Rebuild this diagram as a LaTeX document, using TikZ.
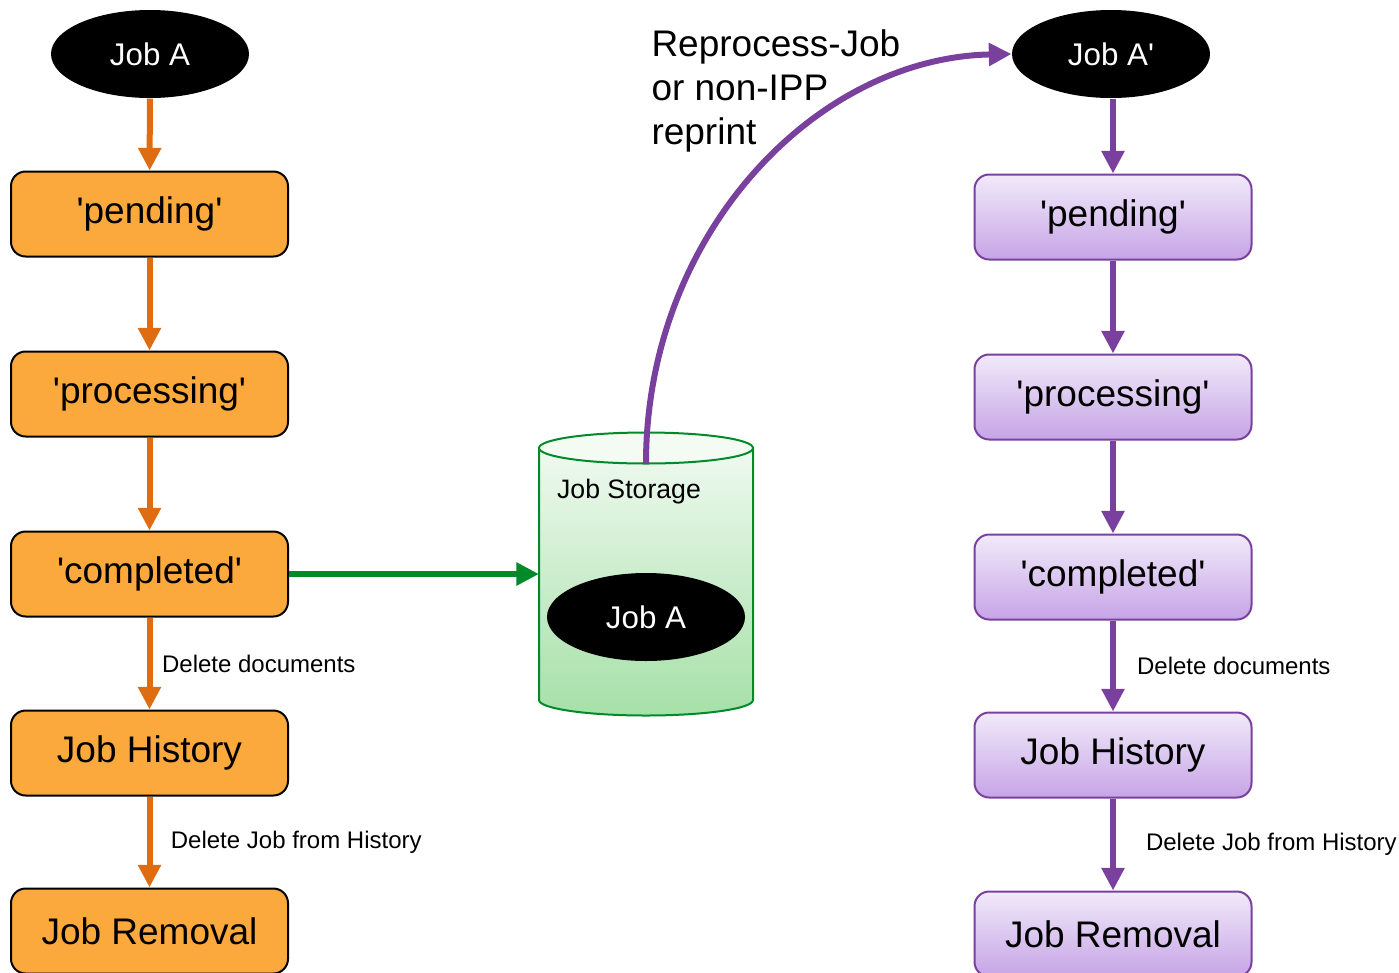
\documentclass[tikz,border=0pt]{standalone}
\usepackage{fontspec}
\setmainfont{Liberation Sans}
\usetikzlibrary{arrows.meta,shapes.geometric}

\definecolor{boxorange}{RGB}{251,168,60}
\definecolor{arroworange}{RGB}{224,108,18}
\definecolor{jobpurple}{RGB}{122,64,158}
\definecolor{lavtop}{RGB}{241,234,250}
\definecolor{lavbottom}{RGB}{198,164,230}
\definecolor{storegreen}{RGB}{0,138,42}
\definecolor{mintop}{RGB}{243,251,243}
\definecolor{minbottom}{RGB}{166,224,168}

\tikzset{every picture/.style={line width=0.75pt}}
\tikzset{
  jobnode/.style={ellipse, fill=black, text=white, inner sep=0pt, minimum width=148.5pt, minimum height=66pt, font=\fontsize{23.5}{28}\selectfont},
  statebox/.style={rectangle, rounded corners=11pt, line width=1.5pt, inner sep=0pt, minimum width=207.75pt, minimum height=63.75pt, font=\fontsize{27.75}{33}\selectfont},
  obox/.style={statebox, draw=black, fill=boxorange},
  pbox/.style={statebox, draw=jobpurple, top color=lavtop, bottom color=lavbottom},
  oarrow/.style={draw=arroworange, line width=4.5pt, -{Triangle[width=16.5pt,length=17pt]}},
  parrow/.style={oarrow, draw=jobpurple},
  garrow/.style={oarrow, draw=storegreen},
  elabel/.style={inner sep=0pt, anchor=west, font=\fontsize{18}{21}\selectfont}
}

\newcommand{\q}{\textquotesingle}

\begin{document}
\begin{tikzpicture}[x=0.75pt,y=0.75pt,yscale=-1,xscale=1]
\useasboundingbox (0,0) rectangle (1399,972);

%Shape: Can [id:store]
\shade [top color=mintop, bottom color=minbottom] (539,448) -- (539,700) arc [start angle=180, end angle=0, x radius=107, y radius=15.5] -- (753,448) arc [start angle=0, end angle=-180, x radius=107, y radius=15.5] -- cycle;
\draw [draw=storegreen, line width=1.5pt] (539,448) -- (539,700) arc [start angle=180, end angle=0, x radius=107, y radius=15.5] -- (753,448);
\draw [draw=storegreen, line width=1.5pt, fill=mintop] (646,448) ellipse [x radius=107, y radius=15.5];
\coordinate (storemouth) at (646,463.5);
\coordinate (storewest) at (539,574);
% Text Node
\node [font=\fontsize{20}{24}\selectfont] (storelabel) at (629,492) {Job Storage};
% Text Node
\node [jobnode] (jobS) at (646,617) {Job A};

% left column
\node [jobnode] (jobA) at (150,54) {Job A};
\node [obox] (opend) at (149.5,214) {\q pending\q};
\node [obox] (oproc) at (149.5,394) {\q processing\q};
\node [obox] (ocomp) at (149.5,574) {\q completed\q};
\node [obox] (ohist) at (149.5,753) {Job History};
\node [obox] (orem) at (149.5,931) {Job Removal};

% right column
\node [jobnode] (jobAp) at (1111,54) {Job A\q};
\node [pbox] (ppend) at (1113,217) {\q pending\q};
\node [pbox] (pproc) at (1113,397) {\q processing\q};
\node [pbox] (pcomp) at (1113,577) {\q completed\q};
\node [pbox] (phist) at (1113,755) {Job History};
\node [pbox] (prem) at (1113,934) {Job Removal};

% Text Node
\node [anchor=west, inner sep=0pt, align=left, font=\fontsize{27.75}{33}\selectfont] (reprint) at (651,91) {Reprocess-Job\\or non-IPP\\reprint};

% orange arrows
\draw [oarrow] (jobA) -- (opend);
\draw [oarrow] (opend) -- (oproc);
\draw [oarrow] (oproc) -- (ocomp);
\draw [oarrow] (ocomp) -- node [elabel, right=7.2pt] {Delete documents} (ohist);
\draw [oarrow] (ohist) -- node [elabel, right=13.8pt] {Delete Job from History} (orem);

% purple arrows
\draw [parrow] (jobAp.south -| ppend.north) -- (ppend);
\draw [parrow] (ppend) -- (pproc);
\draw [parrow] (pproc) -- (pcomp);
\draw [parrow] (pcomp) -- node [elabel, right=15.8pt] {Delete documents} (phist);
\draw [parrow] (phist) -- node [elabel, right=22.5pt] {Delete Job from History} (prem);

% store and reprint
\draw [garrow] (ocomp.east) -- (storewest);
\draw [parrow] (storemouth) .. controls (646,235) and (815,58) .. (jobAp.west);

\end{tikzpicture}
\end{document}
